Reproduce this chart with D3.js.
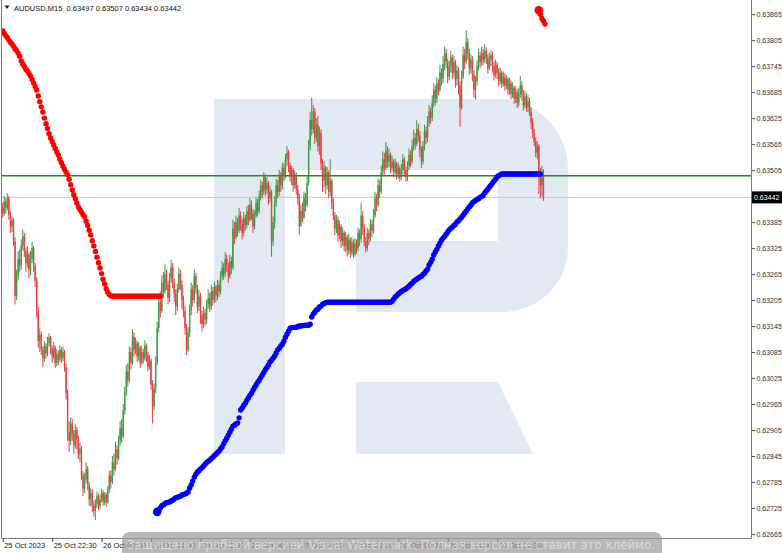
<!DOCTYPE html>
<html><head><meta charset="utf-8">
<script src="https://cdn.jsdelivr.net/npm/d3@7"></script>
<style>html,body{margin:0;padding:0;background:#fff;overflow:hidden}</style>
</head><body><svg id="c" width="782" height="553"></svg>
<script>
// ---- DATA (prices in points, 1 point = 0.00001) ----
const symbol = "AUDUSD", timeframe = "M15";
const firstOpen = 63420;
const closes = [
63405,63432,63418,63440,63402,63375,63390,
63340,63215,63260,63300,63285,
63330,63352,63318,63290,63310,63275,63300,63325,63282,63250,
63180,63110,63125,
63090,63070,63098,63082,63105,63118,63092,63075,63095,63060,63080,63068,63090,63072,63085,63050,
62990,62900,62880,62920,62895,
62870,62905,62885,62850,62862,
62800,62770,62790,
62815,62778,62745,62760,62730,62718,62735,
62752,62730,62745,62760,62740,62755,62738,62765,
62800,62785,62830,62815,62860,62840,62880,
62910,62890,62950,62990,
63040,63020,63085,63060,63120,63090,63105,
63075,63095,63060,63085,63070,63100,63078,63050,63065,
63010,62960,63000,63060,
63140,63200,63180,63245,63225,63265,
63240,63210,63255,63280,63245,63220,63190,63230,63265,63240,63205,63180,63140,
63090,63130,63180,
63230,63205,63260,63232,63190,63215,63170,
63150,63175,63160,63195,
63210,63190,63225,63205,63235,63215,63240,63225,63260,
63280,63265,63300,63285,63260,63295,63280,63370,
63350,63385,63365,63400,63380,63360,63395,63378,63410,
63390,63425,63405,63375,63400,63430,63410,63445,
63470,63455,63490,63460,63475,63440,63455,
63340,63385,63430,63470,63455,
63490,63470,63510,63495,63530,63545,63515,
63490,63505,63470,63495,63460,63440,63375,
63410,63395,63440,63425,63475,
63560,63620,63600,63640,63580,63610,
63560,63590,63520,63480,63510,63470,63500,
63455,63480,63430,63400,
63370,63390,63355,63375,63340,63360,63330,63350,63320,63345,63315,63338,63310,63335,63325,
63360,63345,63400,63370,63340,63325,63360,63345,63380,63365,63400,
63440,63425,63470,63455,63500,63530,63510,63550,63525,
63540,63510,63525,63500,63520,63495,63510,63488,63505,63530,63505,63490,63515,
63540,63525,63560,63580,63565,63600,63585,63550,63525,63560,63595,63580,63615,
63640,63625,63660,63690,63670,63705,63690,63730,
63715,63750,63775,63755,63720,63745,63765,63730,63755,63715,63735,63700,63650,63720,63770,63755,63800,63775,63740,63760,63725,63690,63710,63745,63770,63755,
63775,63760,63780,63765,63740,63760,63770,63745,63725,63748,63730,63710,63730,
63705,63720,63700,63715,63690,63705,63680,63695,63670,63685,63660,63680,63700,63680,63655,63675,63650,63665,63640,
63615,63590,63570,63545,63560,
63500,63470,63497,63442];
const highs = [
63430,63445,63440,63452,63445,63410,63398,
63395,63350,63275,63318,63322,
63345,63368,63360,63325,63330,63315,63318,63340,63330,63290,
63258,63190,63140,
63132,63098,63110,63105,63120,63128,63122,63100,63108,63100,63092,63088,63100,63096,63098,63090,
63058,62998,62925,62935,62930,
62905,62918,62912,62892,62875,
62868,62810,62805,
62830,62822,62785,62772,62768,62742,62745,
62762,62758,62755,62770,62766,62762,62760,62775,
62810,62812,62845,62850,62878,62870,62892,
62925,62930,62965,63005,
63055,63060,63098,63095,63138,63130,63118,
63112,63108,63100,63098,63092,63112,63105,63085,63078,
63070,63020,63012,63075,
63155,63215,63225,63262,63270,63288,
63275,63250,63268,63298,63290,63255,63230,63242,63280,63275,63250,63215,63190,
63150,63142,63195,
63245,63240,63276,63268,63240,63228,63222,
63180,63190,63185,63205,
63230,63222,63240,63235,63248,63240,63252,63250,63272,
63295,63290,63316,63310,63292,63310,63305,63390,
63385,63400,63395,63418,63410,63392,63408,63402,63422,
63425,63440,63435,63415,63412,63442,63438,63458,
63482,63478,63500,63495,63488,63480,63468,
63460,63398,63445,63485,63482,
63505,63500,63522,63520,63542,63560,63552,
63522,63515,63510,63505,63500,63470,63450,
63425,63430,63455,63452,63490,
63575,63640,63672,63655,63648,63625,
63630,63605,63598,63530,63525,63515,63512,
63505,63530,63485,63440,
63408,63402,63398,63388,63380,63372,63365,63362,63355,63358,63350,63350,63345,63348,63345,
63372,63368,63430,63410,63380,63350,63372,63368,63392,63390,63415,
63455,63450,63485,63482,63515,63548,63545,63570,63560,
63555,63545,63538,63530,63532,63525,63522,63515,63520,63542,63535,63512,63525,
63555,63550,63575,63598,63590,63620,63612,63595,63560,63572,63610,63605,63630,
63655,63650,63678,63705,63700,63720,63715,63748,
63740,63768,63790,63785,63762,63758,63780,63772,63768,63760,63748,63742,63710,63735,63790,63785,63828,63810,63785,63772,63768,63735,63722,63758,63785,63778,
63790,63785,63795,63788,63772,63775,63782,63778,63755,63760,63755,63740,63742,
63735,63732,63728,63725,63720,63718,63712,63708,63700,63698,63692,63695,63722,63710,63690,63688,63682,63678,63672,
63650,63625,63600,63580,63572,
63565,63510,63515,63507];
const lows = [
63395,63400,63405,63412,63390,63360,63362,
63330,63195,63205,63250,63270,
63275,63320,63305,63270,63280,63255,63262,63290,63270,63235,
63165,63095,63085,
63078,63050,63062,63070,63075,63098,63080,63060,63068,63048,63052,63055,63062,63060,63064,63040,
62975,62880,62855,62870,62880,
62850,62862,62860,62838,62830,
62790,62752,62760,
62782,62765,62730,62728,62715,62705,62697,
62725,62720,62722,62738,62730,62732,62728,62735,
62760,62770,62780,62800,62810,62825,62835,
62870,62875,62885,62940,
62985,63005,63015,63045,63055,63075,63080,
63062,63065,63048,63055,63058,63065,63062,63040,63045,
62998,62920,62950,62990,
63055,63130,63165,63175,63210,63220,
63228,63195,63200,63245,63232,63200,63170,63180,63222,63228,63185,63165,63125,
63078,63085,63120,
63170,63190,63198,63220,63175,63180,63150,
63132,63140,63145,63150,
63185,63178,63182,63192,63198,63200,63205,63212,63218,
63250,63252,63258,63270,63245,63255,63265,63275,
63335,63345,63352,63360,63365,63345,63352,63365,63370,
63378,63385,63390,63360,63368,63395,63398,63405,
63435,63440,63448,63445,63450,63425,63430,
63305,63330,63370,63420,63440,
63445,63455,63460,63480,63485,63515,63500,
63478,63470,63455,63462,63448,63425,63355,
63380,63385,63392,63410,63420,
63470,63550,63585,63590,63565,63570,
63548,63540,63505,63455,63465,63450,63460,
63440,63445,63415,63390,
63355,63360,63340,63345,63325,63330,63318,63315,63305,63310,63302,63308,63302,63305,63312,
63318,63330,63338,63355,63330,63315,63318,63332,63340,63350,63358,
63395,63410,63420,63440,63450,63490,63495,63505,63510,
63512,63498,63502,63488,63495,63482,63485,63478,63482,63495,63490,63478,63480,
63505,63512,63518,63550,63552,63560,63570,63535,63510,63518,63550,63565,63570,
63605,63612,63618,63650,63655,63660,63678,63685,
63700,63705,63735,63740,63705,63712,63730,63715,63720,63695,63700,63680,63605,63645,63715,63738,63750,63760,63725,63728,63710,63672,63668,63700,63735,63740,
63745,63748,63752,63750,63728,63735,63745,63730,63712,63718,63715,63698,63702,
63695,63698,63688,63692,63678,63680,63668,63672,63658,63660,63648,63652,63672,63665,63642,63648,63640,63638,63630,
63600,63578,63560,63535,63530,
63450,63440,63445,63434];

const timeLabels = ["25 Oct 2023","25 Oct 22:30","26 Oct 06:30","26 Oct 14:30","26 Oct 22:30",
  "27 Oct 06:30","27 Oct 14:30","27 Oct 22:30","30 Oct 06:30","30 Oct 14:30","30 Oct 22:30"];
const barsPerLabel = 32;
const priceTicks = [0.62665,0.62725,0.62785,0.62845,0.62905,0.62965,0.63025,0.63085,0.63145,0.63205,
  0.63265,0.63325,0.63385,0.63445,0.63505,0.63565,0.63625,0.63685,0.63745,0.63805,0.63865];
const levelLine = 0.63492;

const redStart = 0;
const redDots = [
63826,63821,63815,63811,63805,63800,63796,63791,63785,63781,
63775,63768,63757,63750,63744,63738,63734,63728,63722,63714,
63706,63698,63690,63676,63663,63651,63639,63625,63612,63601,
63589,63579,63571,63563,63555,63547,63540,63530,63522,63514,
63507,63500,63494,63484,63471,63459,63448,63439,63429,63420,
63414,63408,63402,63397,63387,63377,63366,63355,63342,63330,
63317,63304,63291,63279,63266,63253,63242,63231,63223,63218,
63215,63214,63214,63214,63214,63214,63214,63214,63214,63214,
63214,63214,63214,63214,63214,63214,63214,63214,63214,63214,
63214,63214,63214,63214,63214,63214,63214,63214,63214,63214,
63214,63214,63214];
const blueStart = 100;
const blueDots = [
62716,62718,62725,62730,62732,62735,62737,62738,62739,62741,
62743,62746,62749,62750,62751,62752,62755,62756,62757,62759,
62762,62771,62778,62787,62796,62803,62808,62811,62815,62818,
62822,62826,62830,62833,62835,62839,62842,62846,62849,62853,
62856,62861,62866,62873,62880,62886,62893,62900,62907,62914,
62916,62919,62921,62933,62951,62956,62962,62967,62973,62979,
62985,62990,62997,63003,63009,63015,63020,63026,63032,63038,
63044,63049,63055,63062,63066,63071,63076,63083,63090,63094,
63099,63103,63110,63119,63126,63133,63140,63141,63142,63142,
63142,63144,63145,63145,63146,63146,63147,63147,63147,63149,
63166,63173,63177,63182,63184,63189,63191,63195,63197,63199,
63200,63200,63200,63200,63200,63200,63200,63200,63200,63200,
63200,63200,63200,63200,63200,63200,63200,63200,63200,63200,
63200,63200,63200,63200,63200,63200,63200,63200,63200,63200,
63200,63200,63200,63200,63200,63200,63200,63200,63200,63200,
63200,63200,63202,63207,63212,63215,63219,63222,63225,63227,
63229,63231,63234,63237,63241,63244,63248,63251,63253,63256,
63258,63260,63264,63267,63272,63276,63286,63292,63299,63309,
63316,63322,63330,63336,63343,63348,63352,63357,63362,63367,
63370,63373,63377,63380,63385,63388,63392,63396,63401,63406,
63410,63415,63420,63424,63429,63432,63435,63437,63439,63442,
63444,63447,63452,63457,63461,63466,63470,63475,63480,63484,
63489,63492,63494,63496,63496,63496,63496,63496,63496,63496,
63496,63496,63496,63496,63496,63496,63496,63496,63496,63496,
63496,63496,63496,63496,63496,63496,63496,63496,63496];
const redTopStart = 347;
const redTopDots = [63874,63865,63855,63849,63842];

// ---- DRAWING ----
const PT = 1e-5;
const W = 782, H = 553;
const L = 2, R = 751, B = 538;
const svg = d3.select("#c");
const fontAxis = "'Liberation Sans', Arial, sans-serif";
const x = d3.scaleLinear().domain([0, 484]).range([2.7, 750.5]);
const y = d3.scaleLinear().domain([0.62658, 0.63893]).range([537, 2]);
const fmt = d3.format(".5f");

svg.append("rect").attr("width", W).attr("height", H).attr("fill", "#fff");

// background logo
const logo = svg.append("g").attr("fill", "#e3e9f2");
logo.append("path").attr("d", "M214,99H498A70,70 0 0 1 568,169V247A65,65 0 0 1 503,312H356V241H498V170H285V454H214Z");
logo.append("path").attr("d", "M356,382H498L533,454H356Z");

svg.append("defs").append("clipPath").attr("id", "clip")
  .append("rect").attr("x", L).attr("y", 0).attr("width", R - L).attr("height", B);
const plot = svg.append("g").attr("clip-path", "url(#clip)");

const n = Math.min(closes.length, highs.length, lows.length);
const bars = d3.range(n).map(i => ({
  i, o: (i ? closes[i - 1] : firstOpen) * PT, c: closes[i] * PT, h: highs[i] * PT, l: lows[i] * PT
}));
const last = bars[n - 1];

// horizontal lines
plot.append("line").attr("x1", L).attr("x2", R).attr("y1", y(last.c)).attr("y2", y(last.c))
  .attr("stroke", "#c9c9c9").attr("stroke-width", 1);
plot.append("line").attr("x1", L).attr("x2", R).attr("y1", y(levelLine)).attr("y2", y(levelLine))
  .attr("stroke", "#1f8c1f").attr("stroke-width", 1.5);

// candles
const col = d => d.c >= d.o ? "#2e9a3b" : "#ee3236";
const cg = plot.append("g").attr("opacity", 0.95);
cg.selectAll("line.w").data(bars).join("line")
  .attr("x1", d => x(d.i)).attr("x2", d => x(d.i))
  .attr("y1", d => y(d.h)).attr("y2", d => y(d.l))
  .attr("stroke", col).attr("stroke-width", 1);
cg.selectAll("rect.b").data(bars).join("rect")
  .attr("x", d => x(d.i) - 0.7).attr("width", 1.4)
  .attr("y", d => y(Math.max(d.o, d.c)))
  .attr("height", d => Math.max(0.8, Math.abs(y(d.o) - y(d.c))))
  .attr("fill", col);

// indicator dots
function dots(arr, start, color, bigFirst) {
  const pts = arr.map((v, k) => ({ i: start + k, v: v * PT, k }));
  plot.append("g").selectAll("circle").data(pts).join("circle")
    .attr("cx", d => x(d.i)).attr("cy", d => y(d.v))
    .attr("r", d => (bigFirst && d.k === 0) ? 4.3 : 2.7)
    .attr("fill", color);
}
dots(redDots, redStart, "#ff0000", false);
dots(blueDots, blueStart, "#0000ff", true);
dots(redTopDots, redTopStart, "#ff0000", true);

// frame
const frame = svg.append("g").attr("stroke", "#7a7a7a").attr("stroke-width", 1).attr("fill", "none");
frame.append("line").attr("x1", L - 0.5).attr("x2", L - 0.5).attr("y1", 0).attr("y2", B);
frame.append("line").attr("x1", R + 0.5).attr("x2", R + 0.5).attr("y1", 0).attr("y2", B);
frame.append("line").attr("x1", L - 0.5).attr("x2", R + 0.5).attr("y1", B + 0.5).attr("y2", B + 0.5);

// price axis
const yAxis = d3.axisRight(y)
  .tickValues(priceTicks.filter(v => Math.abs(y(v) - y(last.c)) > 8))
  .tickSize(3).tickPadding(1.5).tickFormat(fmt);
const ya = svg.append("g").attr("transform", `translate(${R + 1},0)`).call(yAxis);
ya.select(".domain").remove();
ya.selectAll("line").attr("stroke", "#555");
ya.selectAll("text").attr("font-family", fontAxis).attr("font-size", "7px").attr("fill", "#333");

// current price box
svg.append("rect").attr("x", R + 1).attr("y", y(last.c) - 6).attr("width", W - R).attr("height", 12).attr("fill", "#000");
svg.append("text").attr("x", R + 3).attr("y", y(last.c)).attr("dy", "0.35em")
  .attr("font-family", fontAxis).attr("font-size", "7px").attr("fill", "#fff").text(fmt(last.c));

// time axis
const xAxis = d3.axisBottom(x)
  .tickValues(timeLabels.map((_, k) => k * barsPerLabel))
  .tickSize(4).tickPadding(1)
  .tickFormat(d => timeLabels[Math.round(d / barsPerLabel)]);
const xa = svg.append("g").attr("transform", `translate(0,${B})`).call(xAxis);
xa.select(".domain").remove();
xa.selectAll("line").attr("stroke", "#444");
xa.selectAll("text").attr("font-family", fontAxis).attr("font-size", "7.5px").attr("fill", "#222")
  .attr("text-anchor", "start").attr("x", 1);

// title
svg.append("path").attr("d", "M4.5,5.5H9.5L7,9Z").attr("fill", "#222");
svg.append("text").attr("x", 14).attr("y", 10.5).style("white-space", "pre")
  .attr("font-family", fontAxis).attr("font-size", "7.5px").attr("fill", "#111")
  .text(`${symbol},${timeframe}  ${fmt(last.o)} ${fmt(last.h)} ${fmt(last.l)} ${fmt(last.c)}`);

// watermark banner
svg.append("rect").attr("x", 122).attr("y", 532).attr("width", 540).attr("height", 32).attr("rx", 8)
  .attr("fill", "#9c9c9c").attr("opacity", 0.72);
svg.append("text").attr("x", 127).attr("y", 548.5)
  .attr("font-family", "'DejaVu Sans', sans-serif").attr("font-size", "11.5px")
  .attr("fill", "#f2f2f2").attr("opacity", 0.6)
  .attr("textLength", 528).attr("lengthAdjust", "spacingAndGlyphs")
  .text("Защищено пробной версией Visual Watermark. Полная версия не ставит это клеймо.");
</script></body></html>
